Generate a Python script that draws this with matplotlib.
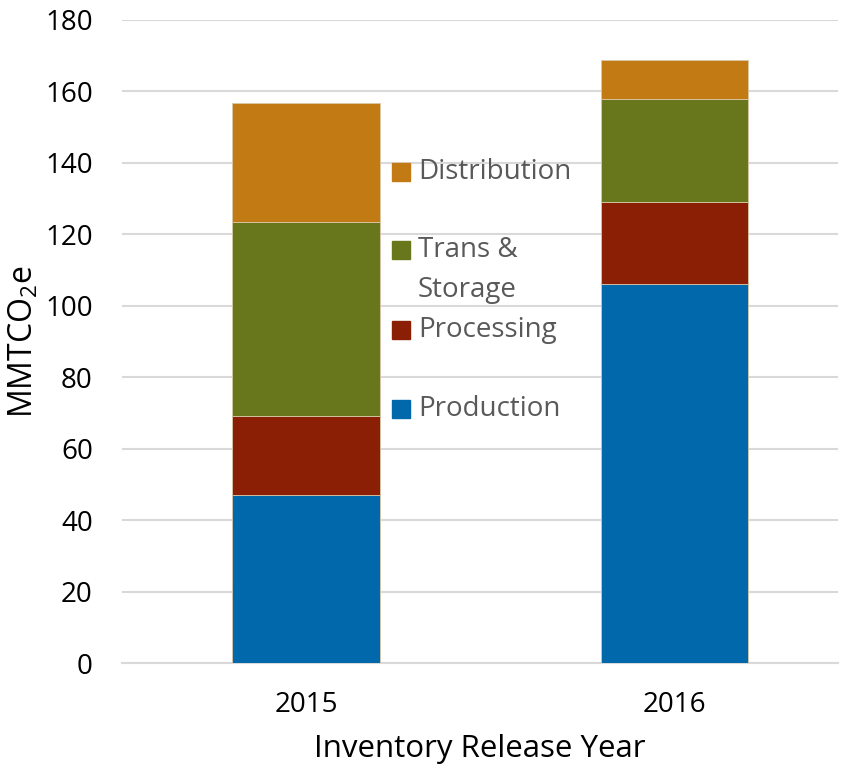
import matplotlib
matplotlib.use("Agg")
import matplotlib.pyplot as plt
from matplotlib.patches import Rectangle
import numpy as np

plt.rcParams['font.family'] = ['Open Sans', 'DejaVu Sans']
plt.rcParams['mathtext.fontset'] = 'custom'
plt.rcParams['mathtext.rm'] = 'Open Sans'
plt.rcParams['mathtext.it'] = 'Open Sans'

years = ["2015", "2016"]
segments = ["Production", "Processing", "Trans & Storage", "Distribution"]
production = [47.0, 106.0]
processing = [22.2, 23.0]
trans_storage = [54.3, 29.0]
distribution = [33.3, 10.8]
colors = ["#0068AB", "#8A1F06", "#68771B", "#C27B14"]
yticks = [0, 20, 40, 60, 80, 100, 120, 140, 160, 180]

fig = plt.figure(figsize=(8.47, 7.68), dpi=100)
ax = fig.add_axes([122/847, 1-663/768, (838-122)/847, (663-20)/768])

x = np.arange(len(years))
bottom = np.zeros(len(years))
series = [production, processing, trans_storage, distribution]
for vals, c, name in zip(series, colors, segments):
    ax.bar(x, vals, width=0.4, bottom=bottom, color=c, edgecolor="#d8c8a8",
           linewidth=0.6, label=name, zorder=3)
    bottom += np.array(vals)

ax.set_xlim(-0.5, 1.444)
ax.set_ylim(0, 180)
ax.set_yticks(yticks)
ax.grid(axis="y", color="#D9D9D9", linewidth=1.5, zorder=0)
ax.set_axisbelow(True)
for s in ax.spines.values():
    s.set_visible(False)
ax.spines["bottom"].set_visible(True)
ax.spines["bottom"].set_color("#D9D9D9")
ax.spines["bottom"].set_linewidth(1.5)
ax.tick_params(axis="both", length=0, labelsize=20, colors="#000000")
ax.tick_params(axis="y", pad=21)
ax.set_xticks(x)
ax.set_xticklabels(years)
ax.tick_params(axis="x", pad=20)
ax.set_xlabel("Inventory Release Year", fontsize=22.5, labelpad=11)
ax.set_ylabel("MMTCO$_2$e", fontsize=23, labelpad=3)

# legend (manual, to match uneven spacing)
legend_items = [("Distribution", 172, colors[3]),
                ("Trans &\nStorage", 250, colors[2]),
                ("Processing", 330, colors[1]),
                ("Production", 409, colors[0])]
for label, ypx, c in legend_items:
    fig.patches.append(Rectangle((392/847, 1-(ypx+9)/768), 18/847, 18/768,
                                 transform=fig.transFigure, color=c, figure=fig))
    fig.text(418/847, 1-(ypx)/768, label.split("\n")[0], fontsize=20,
             color="#595959", va="center", ha="left")
    if "\n" in label:
        fig.text(418/847, 1-(ypx+40)/768, label.split("\n")[1], fontsize=20,
                 color="#595959", va="center", ha="left")

fig.savefig("out.png", dpi=100)
